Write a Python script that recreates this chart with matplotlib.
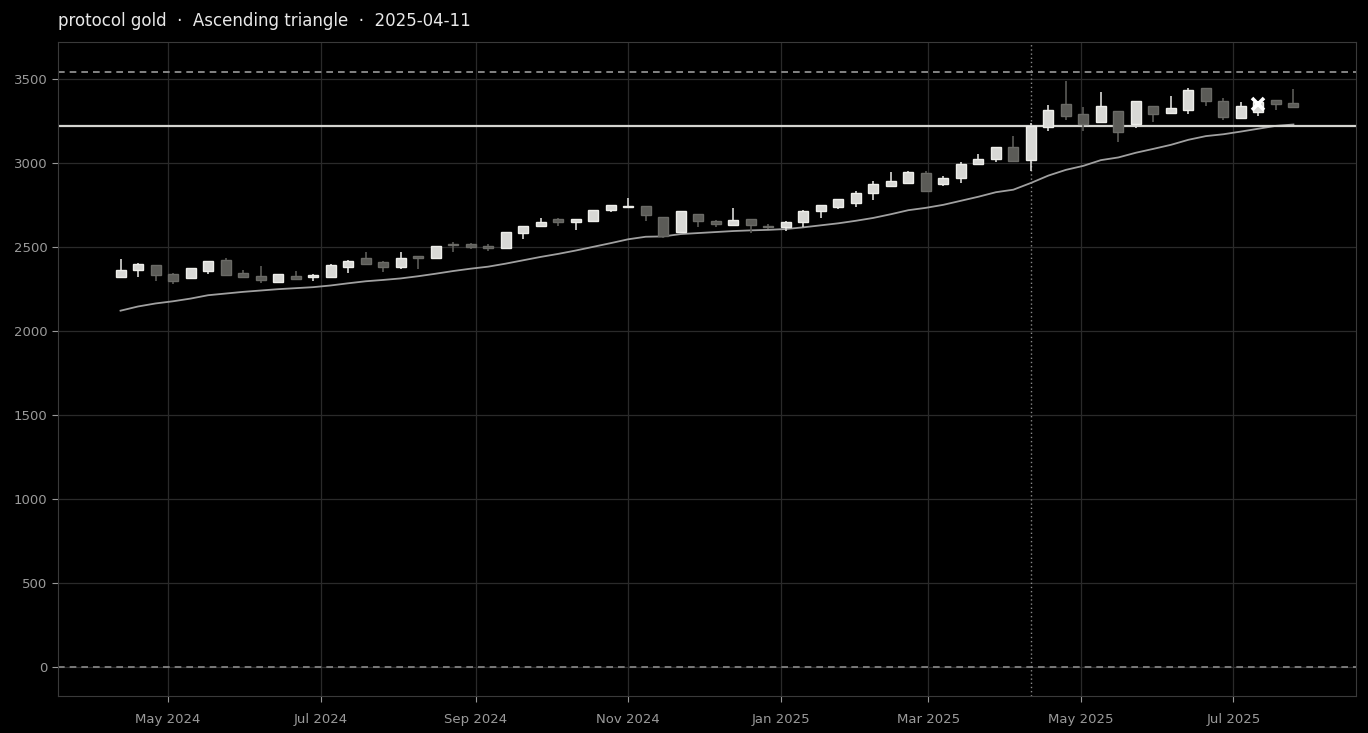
import numpy as np
import pandas as pd
import matplotlib
matplotlib.use("Agg")
import matplotlib.pyplot as plt
import matplotlib.dates as mdates

# weekly candles
dates = pd.date_range("2024-04-12", periods=68, freq="7D")
opens = [2323, 2361, 2391, 2337, 2317, 2355, 2421, 2343, 2325, 2290, 2325, 2321,
         2323, 2379, 2433, 2409, 2379, 2446, 2433, 2519, 2516, 2504, 2492, 2583,
         2623, 2666, 2647, 2651, 2718, 2735, 2742, 2676, 2591, 2694, 2653, 2629,
         2665, 2623, 2617, 2647, 2712, 2740, 2760, 2819, 2861, 2879, 2938, 2872,
         2909, 2990, 3022, 3093, 3014, 3212, 3349, 3290, 3242, 3307, 3232, 3337,
         3296, 3313, 3444, 3367, 3266, 3302, 3373, 3355]
highs = [2428, 2403, 2393, 2343, 2375, 2418, 2433, 2363, 2383, 2339, 2355, 2337,
         2395, 2420, 2472, 2418, 2472, 2448, 2506, 2528, 2522, 2516, 2590, 2625,
         2671, 2672, 2668, 2720, 2750, 2790, 2745, 2679, 2716, 2697, 2660, 2730,
         2668, 2635, 2656, 2720, 2749, 2786, 2835, 2889, 2944, 2950, 2954, 2924,
         3002, 3051, 3096, 3162, 3236, 3345, 3486, 3335, 3424, 3310, 3370, 3340,
         3396, 3444, 3447, 3385, 3361, 3370, 3376, 3438]
lows = [2319, 2323, 2297, 2278, 2308, 2337, 2329, 2318, 2284, 2288, 2302, 2297,
        2320, 2347, 2393, 2349, 2369, 2369, 2430, 2468, 2490, 2476, 2488, 2547,
        2621, 2623, 2599, 2648, 2708, 2732, 2656, 2553, 2581, 2617, 2617, 2627,
        2581, 2609, 2593, 2621, 2671, 2724, 2736, 2777, 2859, 2872, 2829, 2861,
        2879, 2988, 3004, 3006, 2954, 3192, 3256, 3192, 3238, 3123, 3206, 3242,
        3294, 3290, 3337, 3253, 3262, 3276, 3313, 3329]
closes = [2363, 2400, 2331, 2297, 2373, 2415, 2331, 2320, 2302, 2337, 2311, 2333,
          2393, 2418, 2395, 2379, 2433, 2433, 2502, 2510, 2497, 2492, 2587, 2623,
          2647, 2647, 2666, 2718, 2748, 2744, 2688, 2563, 2712, 2651, 2633, 2658,
          2629, 2617, 2647, 2712, 2747, 2783, 2819, 2872, 2891, 2944, 2835, 2909,
          2994, 3022, 3093, 3008, 3222, 3313, 3278, 3230, 3337, 3183, 3367, 3290,
          3325, 3432, 3367, 3271, 3337, 3361, 3349, 3331]
ma = [2120, 2145, 2163, 2176, 2192, 2212, 2222, 2232, 2240, 2248, 2254, 2260,
      2270, 2283, 2295, 2303, 2312, 2325, 2340, 2356, 2370, 2382, 2400, 2420,
      2440, 2458, 2478, 2500, 2522, 2545, 2560, 2562, 2576, 2582, 2588, 2594,
      2598, 2601, 2606, 2616, 2628, 2640, 2655, 2672, 2694, 2718, 2732, 2750,
      2774, 2798, 2825, 2840, 2880, 2924, 2958, 2982, 3016, 3032, 3060, 3083,
      3107, 3137, 3159, 3170, 3186, 3203, 3220, 3228]

resistance = 3222
upper = 3540
signal_date = pd.Timestamp("2025-04-11")
mark_date = pd.Timestamp("2025-07-11")
mark_value = 3351
title = "protocol gold  \u00b7  Ascending triangle  \u00b7  2025-04-11"

up_col = "#d8d8d5"
down_col = "#5b5b57"

fig = plt.figure(figsize=(13.68, 7.33), dpi=100, facecolor="black")
ax = fig.add_axes([0.0424, 0.0505, 0.9488, 0.8922], facecolor="black")

x = mdates.date2num(dates)
w = 4.0
for xi, o, h, l, c in zip(x, opens, highs, lows, closes):
    col = up_col if c >= o else down_col
    edge = "#eeeeea" if c >= o else "#6a6a66"
    ax.vlines(xi, l, h, color=col, lw=1.2, zorder=3)
    ax.bar(xi, max(abs(c - o), 4), bottom=min(o, c), width=w, color=col,
           edgecolor=edge, lw=1.0, zorder=4)

ax.plot(x, ma, color="#a0a0a0", lw=1.3, zorder=2)

ax.axhline(upper, color="#9a9a9a", lw=1.2, ls=(0, (4, 3)), zorder=2)
ax.axhline(resistance, color="#d4d4d0", lw=1.6, zorder=2)
ax.axhline(0, color="#8a8a8a", lw=1.2, ls=(0, (4, 3)), zorder=2)
ax.axvline(mdates.date2num(signal_date), color="#8a8a8a", lw=1.0, ls=(0, (1, 2)), zorder=2)
ax.plot(mdates.date2num(mark_date), mark_value, marker="x", color="white",
        ms=9, mew=2.6, zorder=6)

ax.set_xlim(mdates.date2num(pd.Timestamp("2024-03-18")),
            mdates.date2num(pd.Timestamp("2025-08-19")))
ax.set_ylim(-173, 3719)
ax.set_yticks(np.arange(0, 3501, 500))
ax.xaxis.set_major_locator(mdates.MonthLocator(bymonth=[1, 3, 5, 7, 9, 11]))
ax.xaxis.set_major_formatter(mdates.DateFormatter("%b %Y"))

ax.grid(True, color="#2a2a2a", lw=0.9)
ax.set_axisbelow(True)
for s in ax.spines.values():
    s.set_color("#3a3a3a")
ax.tick_params(colors="#9a9a9a", labelsize=9.5, length=4)
ax.tick_params(axis="x", pad=8)

fig.text(0.0424, 0.972, title, color="#e8e8e8", fontsize=12, ha="left", va="center")

fig.savefig("out.png", dpi=100, facecolor="black")
